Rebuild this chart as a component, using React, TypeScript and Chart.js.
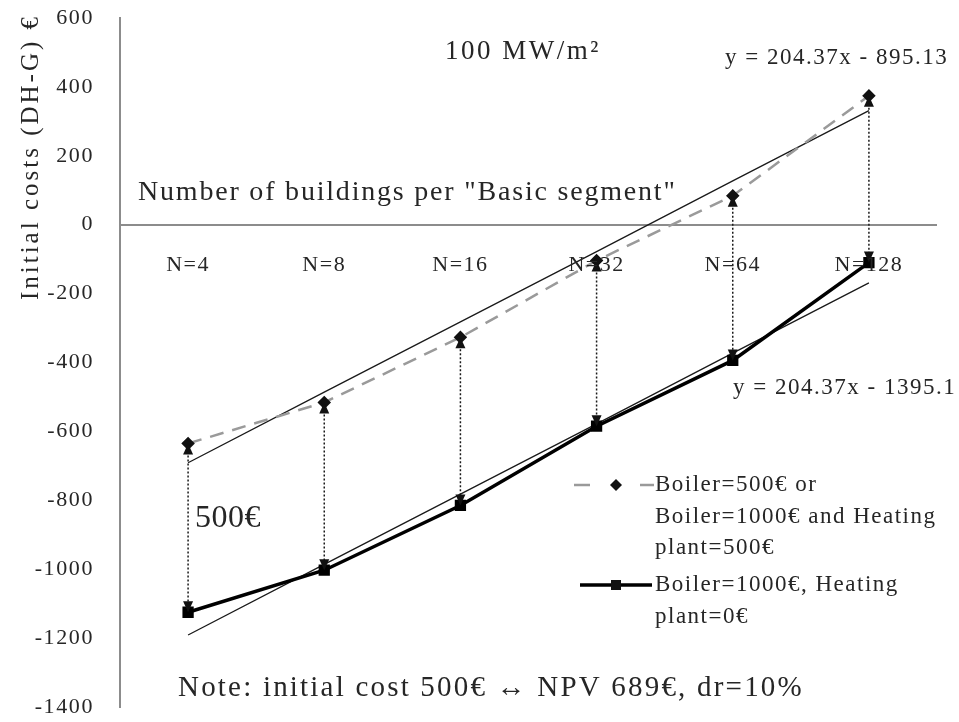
import React, { useEffect, useRef } from 'react';
import { Chart, registerables } from 'chart.js';

Chart.register(...registerables);

const FONT = "'Liberation Serif', 'Times New Roman', serif";
const TEXT = '#262626';

const categories = ['N=4', 'N=8', 'N=16', 'N=32', 'N=64', 'N=128'];
const boiler500 = [-635, -516, -327, -104, 84, 374];
const boiler1000 = [-1125, -1003, -815, -585, -394, -110];
const trendUpper = [-691, -486, -282, -78, 127, 331];
const trendLower = [-1191, -986, -782, -578, -373, -169];
const yMin = -1400;
const yMax = 600;
const yStep = 200;

const seriesLabels = ['Boiler=500€ or Boiler=1000€ and Heating plant=500€', 'Boiler=1000€, Heating plant=0€'];
const legendLines1 = ['Boiler=500€ or', 'Boiler=1000€ and Heating', 'plant=500€'];
const legendLines2 = ['Boiler=1000€, Heating', 'plant=0€'];
const yTitle = 'Initial costs (DH-G) €';
const xTitle = 'Number of buildings per "Basic segment"';
const heatTitle = '100 MW/m²';
const eqUpper = 'y = 204.37x - 895.13';
const eqLower = 'y = 204.37x - 1395.1';
const gapLabel = '500€';
const note = 'Note: initial cost 500€ ↔ NPV 689€, dr=10%';

function txt(ctx: CanvasRenderingContext2D, s: string, x: number, y: number, size: number, align: CanvasTextAlign = 'left', ls = 0) {
  ctx.save();
  ctx.font = `${size}px ${FONT}`;
  (ctx as any).letterSpacing = `${ls}px`;
  ctx.fillStyle = TEXT;
  ctx.textAlign = align;
  ctx.textBaseline = 'middle';
  ctx.fillText(s, x, y);
  ctx.restore();
}

const spacingPlugin = {
  id: 'spacing',
  beforeDraw(chart: any) {
    chart.ctx.letterSpacing = '1.6px';
  },
};

const arrowPlugin = {
  id: 'arrows',
  afterDatasetsDraw(chart: any) {
    const ctx = chart.ctx as CanvasRenderingContext2D;
    const xs = chart.scales.x;
    const ys = chart.scales.y;
    ctx.save();
    (ctx as any).letterSpacing = '0px';
    for (let i = 0; i < categories.length; i++) {
      const x = xs.getPixelForValue(i);
      const yt = ys.getPixelForValue(boiler500[i]);
      const yb = ys.getPixelForValue(boiler1000[i]);
      ctx.strokeStyle = '#1a1a1a';
      ctx.lineWidth = 1.5;
      ctx.setLineDash([2, 2]);
      ctx.beginPath();
      ctx.moveTo(x, yt + 8);
      ctx.lineTo(x, yb - 8);
      ctx.stroke();
      ctx.setLineDash([]);
      ctx.fillStyle = '#111';
      ctx.beginPath();
      ctx.moveTo(x, yt);
      ctx.lineTo(x - 5, yt + 11);
      ctx.lineTo(x + 5, yt + 11);
      ctx.closePath();
      ctx.fill();
      ctx.beginPath();
      ctx.moveTo(x, yb);
      ctx.lineTo(x - 5, yb - 11);
      ctx.lineTo(x + 5, yb - 11);
      ctx.closePath();
      ctx.fill();
    }
    ctx.restore();
  },
};

const textPlugin = {
  id: 'texts',
  afterDraw(chart: any) {
    const ctx = chart.ctx as CanvasRenderingContext2D;
    const xs = chart.scales.x;
    const ys = chart.scales.y;
    const y0 = ys.getPixelForValue(0);
    categories.forEach((c, i) => txt(ctx, c, xs.getPixelForValue(i), y0 + 41, 22, 'center', 1.5));

    // y-axis title
    ctx.save();
    ctx.translate(31, 157);
    ctx.rotate(-Math.PI / 2);
    txt(ctx, yTitle, 0, 0, 25, 'center', 3);
    ctx.restore();

    txt(ctx, xTitle, 138, 193, 28, 'left', 1.8);
    txt(ctx, heatTitle, 445, 52, 27, 'left', 2.5);
    txt(ctx, eqUpper, 725, 58, 23, 'left', 1.5);
    txt(ctx, eqLower, 733, 388, 23, 'left', 1.5);
    txt(ctx, gapLabel, 195, 519, 32, 'left', 0.5);
    txt(ctx, note, 178, 688, 29, 'left', 2.2);

    // legend
    ctx.save();
    (ctx as any).letterSpacing = '0px';
    ctx.strokeStyle = '#9a9a9a';
    ctx.lineWidth = 2.5;
    ctx.beginPath();
    ctx.moveTo(574, 485); ctx.lineTo(590, 485);
    ctx.moveTo(640, 485); ctx.lineTo(654, 485);
    ctx.stroke();
    ctx.fillStyle = '#111';
    ctx.beginPath();
    ctx.moveTo(616, 479); ctx.lineTo(622, 485); ctx.lineTo(616, 491); ctx.lineTo(610, 485);
    ctx.closePath();
    ctx.fill();
    ctx.strokeStyle = '#000';
    ctx.lineWidth = 3.5;
    ctx.beginPath();
    ctx.moveTo(580, 585); ctx.lineTo(652, 585);
    ctx.stroke();
    ctx.fillRect(611, 580, 10, 10);
    ctx.restore();
    legendLines1.forEach((s, i) => txt(ctx, s, 655, 485 + i * 31.5, 23, 'left', 1.5));
    legendLines2.forEach((s, i) => txt(ctx, s, 655, 585 + i * 32, 23, 'left', 1.5));
  },
};

export default function App() {
  const ref = useRef<HTMLCanvasElement>(null);
  useEffect(() => {
    if (!ref.current) return;
    const chart = new Chart(ref.current, {
      type: 'line',
      data: {
        labels: categories,
        datasets: [
          {
            label: seriesLabels[0],
            data: boiler500,
            borderColor: '#9a9a9a',
            borderWidth: 2.5,
            borderDash: [14, 9],
            pointStyle: 'rectRot',
            pointRadius: 5,
            pointBackgroundColor: '#111',
            pointBorderColor: '#111',
            tension: 0,
          },
          {
            label: seriesLabels[1],
            data: boiler1000,
            borderColor: '#000',
            borderWidth: 3.5,
            pointStyle: 'rect',
            pointRadius: 5.5,
            pointBackgroundColor: '#000',
            pointBorderColor: '#000',
            tension: 0,
          },
          {
            label: 'trend upper',
            data: trendUpper,
            borderColor: '#1a1a1a',
            borderWidth: 1.3,
            pointRadius: 0,
            tension: 0,
          },
          {
            label: 'trend lower',
            data: trendLower,
            borderColor: '#1a1a1a',
            borderWidth: 1.3,
            pointRadius: 0,
            tension: 0,
          },
        ],
      },
      options: {
        responsive: false,
        animation: false,
        layout: { padding: { left: 0, top: 18, right: 22, bottom: 15 } },
        plugins: { legend: { display: false }, tooltip: { enabled: false } },
        scales: {
          x: {
            type: 'category',
            display: false,
            offset: true,
          },
          y: {
            min: yMin,
            max: yMax,
            grid: {
              display: true,
              drawTicks: false,
              lineWidth: 2,
              color: (c: any) => (c.tick && c.tick.value === 0 ? '#8c8c8c' : 'rgba(0,0,0,0)'),
            },
            border: { display: true, color: '#8c8c8c', width: 2 },
            ticks: {
              stepSize: yStep,
              font: { family: FONT, size: 22 },
              color: TEXT,
              padding: 26,
              callback: (v: any) => String(v),
            },
            afterFit(scale: any) {
              scale.width = 120;
              scale.paddingTop = 0;
              scale.paddingBottom = 0;
            },
          },
        },
      },
      plugins: [spacingPlugin, arrowPlugin, textPlugin],
    });
    return () => chart.destroy();
  }, []);
  return (
    <canvas
      ref={ref}
      width={959}
      height={722}
      style={{ position: 'fixed', left: 0, top: 0, width: 959, height: 722, display: 'block', background: '#fff' }}
    />
  );
}
